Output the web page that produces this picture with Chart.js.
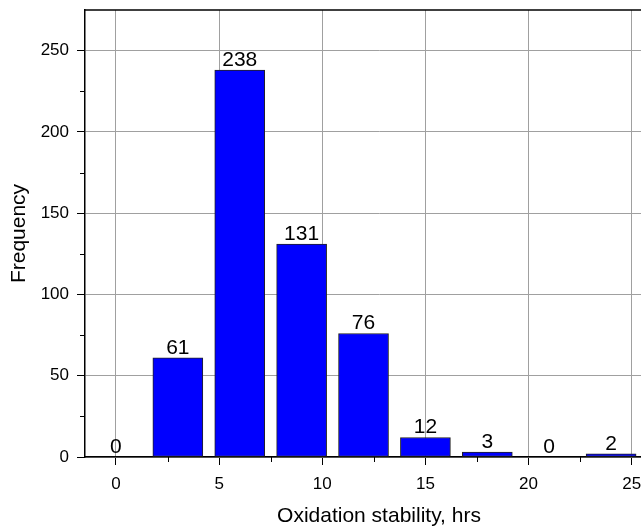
<!DOCTYPE html>
<html>
<head>
<meta charset="utf-8">
<script src="https://cdn.jsdelivr.net/npm/chart.js@4.4.1/dist/chart.umd.min.js"></script>
<style>
  html, body { margin: 0; padding: 0; background: #fff; overflow: hidden; }
  #wrap { width: 673px; height: 529px; }
</style>
</head>
<body>
<div id="wrap"><canvas id="myChart" width="673" height="529"></canvas></div>
<script>
const binCenters = [0, 3, 6, 9, 12, 15, 18, 21, 24];
const frequencies = [0, 61, 238, 131, 76, 12, 3, 0, 2];
const xMajorTicks = [0, 5, 10, 15, 20, 25];
const xMinorTicks = [2.5, 7.5, 12.5, 17.5, 22.5];
const yMajorTicks = [0, 50, 100, 150, 200, 250];
const yMinorTicks = [25, 75, 125, 175, 225];

const fontFamily = '"Liberation Sans", Arial, sans-serif';

// value labels on top of bars, minor ticks and the top frame line
const extrasPlugin = {
  id: 'extras',
  afterDatasetsDraw(chart) {
    const ctx = chart.ctx;
    const meta = chart.getDatasetMeta(0);
    ctx.save();
    ctx.fillStyle = '#000';
    ctx.font = '21px ' + fontFamily;
    ctx.textAlign = 'center';
    ctx.textBaseline = 'alphabetic';
    meta.data.forEach((bar, i) => {
      ctx.fillText(String(frequencies[i]), bar.x, bar.y - 4);
    });
    ctx.restore();
  },
  afterDraw(chart) {
    const ctx = chart.ctx;
    const area = chart.chartArea;
    const x = chart.scales.x;
    const y = chart.scales.y;
    ctx.save();
    ctx.strokeStyle = '#000';
    ctx.lineWidth = 1.5;
    ctx.beginPath();
    ctx.moveTo(area.left, area.top);
    ctx.lineTo(area.right, area.top);
    ctx.stroke();
    ctx.lineWidth = 1;
    ctx.beginPath();
    xMinorTicks.forEach(v => {
      const px = Math.round(x.getPixelForValue(v)) + 0.5;
      ctx.moveTo(px, area.bottom);
      ctx.lineTo(px, area.bottom + 5);
    });
    yMinorTicks.forEach(v => {
      const py = Math.round(y.getPixelForValue(v)) + 0.5;
      ctx.moveTo(area.left, py);
      ctx.lineTo(area.left - 5, py);
    });
    ctx.stroke();
    ctx.restore();
  }
};

const ctx = document.getElementById('myChart').getContext('2d');
new Chart(ctx, {
  type: 'bar',
  data: {
    datasets: [{
      data: binCenters.map((c, i) => ({ x: c, y: frequencies[i] })),
      backgroundColor: '#0000ff',
      borderColor: '#222',
      borderWidth: 1,
      borderSkipped: false,
      barThickness: 50,
    }],
  },
  options: {
    responsive: false,
    animation: false,
    layout: { padding: { top: 10, left: 0, right: 0, bottom: 0 } },
    plugins: {
      legend: { display: false },
      tooltip: { enabled: false },
    },
    scales: {
      x: {
        type: 'linear',
        offset: false,
        min: -1.5,
        max: 27,
        afterBuildTicks: (scale) => { scale.ticks = xMajorTicks.map(v => ({ value: v })); },
        afterFit: (scale) => { scale.height = 72; scale.paddingLeft = 0; scale.paddingRight = 0; },
        border: { color: '#000', width: 1.5 },
        grid: { color: '#a0a0a0', lineWidth: 1, tickLength: 8, tickColor: '#000', offset: false },
        ticks: {
          color: '#000',
          padding: 9,
          maxRotation: 0,
          autoSkip: false,
          font: { family: fontFamily, size: 17 },
        },
        title: {
          display: true,
          text: 'Oxidation stability, hrs',
          color: '#000',
          font: { family: fontFamily, size: 21 },
          padding: { top: 2, bottom: 0 },
        },
      },
      y: {
        type: 'linear',
        min: 0,
        max: 275,
        afterBuildTicks: (scale) => { scale.ticks = yMajorTicks.map(v => ({ value: v })); },
        afterFit: (scale) => { scale.width = 85; scale.paddingTop = 0; scale.paddingBottom = 0; },
        border: { color: '#000', width: 1.5 },
        grid: { color: '#a0a0a0', lineWidth: 1, tickLength: 8, tickColor: '#000' },
        ticks: {
          color: '#000',
          padding: 8,
          font: { family: fontFamily, size: 17 },
        },
        title: {
          display: true,
          text: 'Frequency',
          color: '#000',
          font: { family: fontFamily, size: 21 },
          padding: { top: 7, bottom: 4 },
        },
      },
    },
  },
  plugins: [extrasPlugin],
});
</script>
</body>
</html>
